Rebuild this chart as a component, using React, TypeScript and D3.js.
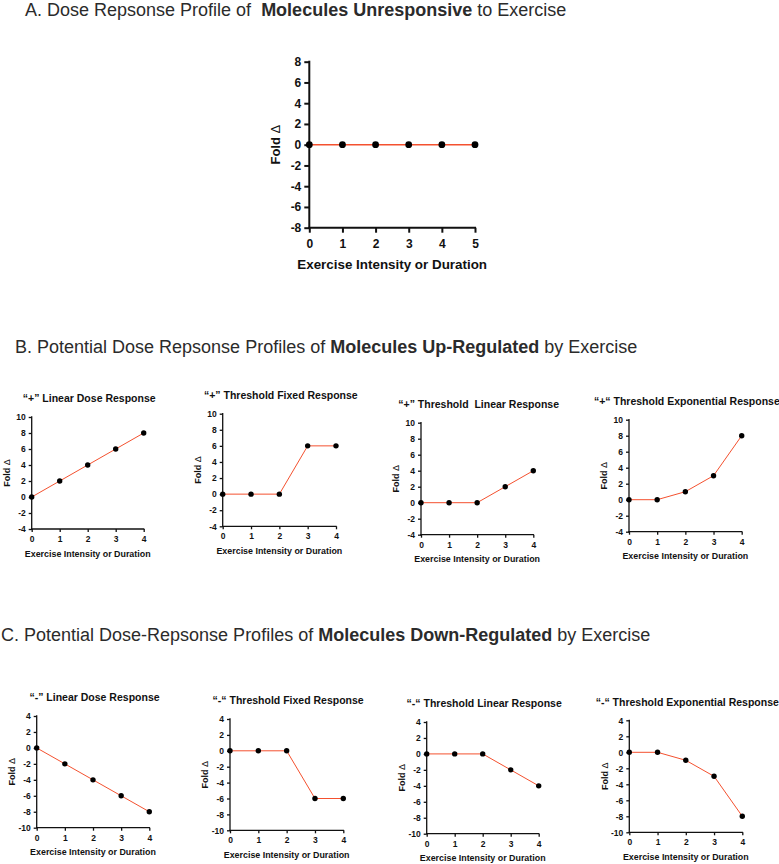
import React, { useRef, useEffect } from 'react';
import * as d3 from 'd3';

// dose levels on the x axis
const doseA = [0, 1, 2, 3, 4, 5];
const dose = [0, 1, 2, 3, 4];

// fold change values for each profile
const unresponsive = [0, 0, 0, 0, 0, 0];
const upLinear = [0, 2, 4, 6, 8];
const upFixed = [0, 0, 0, 6, 6];
const upThresholdLinear = [0, 0, 0, 2, 4];
const upExponential = [0, 0, 1, 3, 8];
const downLinear = [0, -2, -4, -6, -8];
const downFixed = [0, 0, 0, -6, -6];
const downThresholdLinear = [0, 0, 0, -2, -4];
const downExponential = [0, 0, -1, -3, -8];

const upTitles = [
  '\u201C+\u201D Linear Dose Response',
  '\u201C+\u201D Threshold Fixed Response',
  '\u201C+\u201D Threshold  Linear Response',
  '\u201C+\u201C Threshold Exponential Response',
];
const downTitles = [
  '\u201C-\u201D Linear Dose Response',
  '\u201C-\u201C Threshold Fixed Response',
  '\u201C-\u201C Threshold Linear Response',
  '\u201C-\u201C Threshold Exponential Response',
];

const ticksA = [-8, -6, -4, -2, 0, 2, 4, 6, 8];
const ticksUp = [-4, -2, 0, 2, 4, 6, 8, 10];
const ticksDown = [-10, -8, -6, -4, -2, 0, 2, 4];

const xTitle = 'Exercise Intensity or Duration';
const FONT = "'Liberation Sans', Arial, Helvetica, sans-serif";
const RED = '#f4512f';

type Frame = { left: number; right: number; top: number; bottom: number };

// plot boxes: left/right = x of first/last dose, top/bottom = y of max/min tick
const frameA: Frame = { left: 309.3, right: 475, top: 61.7, bottom: 227.7 };
const framesUp: Frame[] = [
  { left: 31.7, right: 143.7, top: 417, bottom: 529 },
  { left: 222.7, right: 336, top: 413.7, bottom: 526.3 },
  { left: 421, right: 533.3, top: 422.7, bottom: 534.7 },
  { left: 629, right: 741.7, top: 419.7, bottom: 531.7 },
];
const framesDown: Frame[] = [
  { left: 36.7, right: 149.3, top: 716, bottom: 827.7 },
  { left: 230, right: 343.3, top: 719, bottom: 830.3 },
  { left: 426.7, right: 538.7, top: 722, bottom: 833.7 },
  { left: 629.3, right: 742.3, top: 720.3, bottom: 832.3 },
];

type Style = {
  tickFont: number; tickSize: number; padX: number; padY: number;
  axisWidth: number; titleFont: number; foldFont: number; foldOffset: number;
  xTitleOffset: number; dotR: number; lineWidth: number; chartTitleFont: number;
};

const bigStyle: Style = {
  tickFont: 12, tickSize: 5, padX: 6.5, padY: 3, axisWidth: 2, titleFont: 13.4,
  foldFont: 13, foldOffset: 34, xTitleOffset: 41, dotR: 3.4, lineWidth: 1.4, chartTitleFont: 0,
};
const smallStyle: Style = {
  tickFont: 8.5, tickSize: 3, padX: 4, padY: 3, axisWidth: 1.3, titleFont: 8.9,
  foldFont: 9, foldOffset: 24.7, xTitleOffset: 27.5, dotR: 2.7, lineWidth: 1, chartTitleFont: 10.5,
};

// plain hyphen for negatives, as on the printed axes
const fmt = (d: d3.NumberValue) => String(d);

function drawPanel(
  svg: d3.Selection<SVGSVGElement, unknown, null, undefined>,
  xs: number[], ys: number[], yTicks: number[], f: Frame, s: Style, title?: string,
) {
  const g = svg.append('g');
  const x = d3.scaleLinear().domain([0, d3.max(xs) as number]).range([f.left, f.right]);
  const y = d3.scaleLinear().domain(d3.extent(yTicks) as [number, number]).range([f.bottom, f.top]);

  const yAxis = g.append('g')
    .attr('transform', `translate(${f.left},0)`)
    .call(d3.axisLeft(y).tickValues(yTicks).tickSize(s.tickSize).tickSizeOuter(0).tickPadding(s.padY).tickFormat(fmt));
  const xAxis = g.append('g')
    .attr('transform', `translate(0,${f.bottom})`)
    .call(d3.axisBottom(x).tickValues(xs).tickSize(s.tickSize).tickSizeOuter(0).tickPadding(s.padX).tickFormat(fmt));

  [yAxis, xAxis].forEach(a => {
    a.attr('font-family', FONT).attr('font-size', s.tickFont).attr('font-weight', 'bold');
    a.selectAll('path, line').attr('stroke', '#111').attr('stroke-width', s.axisWidth);
    a.selectAll('text').attr('fill', '#111');
  });
  yAxis.select('.domain').attr('d', `M0,${f.top - s.axisWidth / 2}V${f.bottom + s.axisWidth / 2}`);
  xAxis.select('.domain').attr('d', `M${f.left - s.axisWidth / 2},0H${f.right + s.axisWidth / 2}`);

  const pts = xs.map((d, i) => [d, ys[i]] as [number, number]);
  const line = d3.line<[number, number]>().x(d => x(d[0])).y(d => y(d[1]));

  g.append('path')
    .datum(pts)
    .attr('d', line)
    .attr('fill', 'none')
    .attr('stroke', RED)
    .attr('stroke-width', s.lineWidth);

  g.selectAll('circle.pt')
    .data(pts)
    .join('circle')
    .attr('class', 'pt')
    .attr('cx', d => x(d[0]))
    .attr('cy', d => y(d[1]))
    .attr('r', s.dotR)
    .attr('fill', '#000');

  const cx = (f.left + f.right) / 2;
  g.append('text')
    .attr('x', cx)
    .attr('y', f.bottom + s.xTitleOffset)
    .attr('text-anchor', 'middle')
    .attr('font-family', FONT)
    .attr('font-size', s.titleFont)
    .attr('font-weight', 'bold')
    .attr('fill', '#111')
    .text(xTitle);

  const fold = g.append('text')
    .attr('transform', `translate(${f.left - s.foldOffset},${(f.top + f.bottom) / 2}) rotate(-90)`)
    .attr('text-anchor', 'middle')
    .attr('dy', '0.35em')
    .attr('font-family', FONT)
    .attr('font-size', s.foldFont)
    .attr('fill', '#111');
  fold.append('tspan').attr('font-weight', 'bold').text('Fold ');
  fold.append('tspan').attr('font-weight', 'normal').text('\u0394');

  if (title) {
    g.append('text')
      .attr('x', cx + 1.5)
      .attr('y', f.top - 18.3)
      .attr('dy', '0.35em')
      .attr('text-anchor', 'middle')
      .attr('font-family', FONT)
      .attr('font-size', s.chartTitleFont)
      .attr('font-weight', 'bold')
      .attr('fill', '#111')
      .style('white-space', 'pre')
      .text(title);
  }
}

function heading(
  svg: d3.Selection<SVGSVGElement, unknown, null, undefined>,
  x: number, y: number, parts: [string, boolean][],
) {
  const t = svg.append('text')
    .attr('x', x)
    .attr('y', y)
    .attr('font-family', FONT)
    .attr('font-size', 18)
    .attr('fill', '#2b2b2b')
    .style('white-space', 'pre');
  parts.forEach(([str, bold]) => {
    t.append('tspan').attr('font-weight', bold ? 'bold' : 'normal').text(str);
  });
}

const App = () => {
  const ref = useRef<SVGSVGElement>(null);

  useEffect(() => {
    const svg = d3.select(ref.current as SVGSVGElement);
    svg.selectAll('*').remove();

    heading(svg, 25, 16, [['A. Dose Repsonse Profile of  ', false], ['Molecules Unresponsive', true], [' to Exercise', false]]);
    heading(svg, 15, 352.7, [['B. Potential Dose Repsonse Profiles of ', false], ['Molecules Up-Regulated', true], [' by Exercise', false]]);
    heading(svg, 1, 641, [['C. Potential Dose-Repsonse Profiles of ', false], ['Molecules Down-Regulated', true], [' by Exercise', false]]);

    drawPanel(svg, doseA, unresponsive, ticksA, frameA, bigStyle);

    const upSeries = [upLinear, upFixed, upThresholdLinear, upExponential];
    upSeries.forEach((ys, i) => drawPanel(svg, dose, ys, ticksUp, framesUp[i], smallStyle, upTitles[i]));

    const downSeries = [downLinear, downFixed, downThresholdLinear, downExponential];
    downSeries.forEach((ys, i) => drawPanel(svg, dose, ys, ticksDown, framesDown[i], smallStyle, downTitles[i]));
  }, []);

  return (
    <svg
      ref={ref}
      width={779}
      height={864}
      style={{ position: 'absolute', left: 0, top: 0, background: '#fff' }}
    />
  );
};

export default App;
